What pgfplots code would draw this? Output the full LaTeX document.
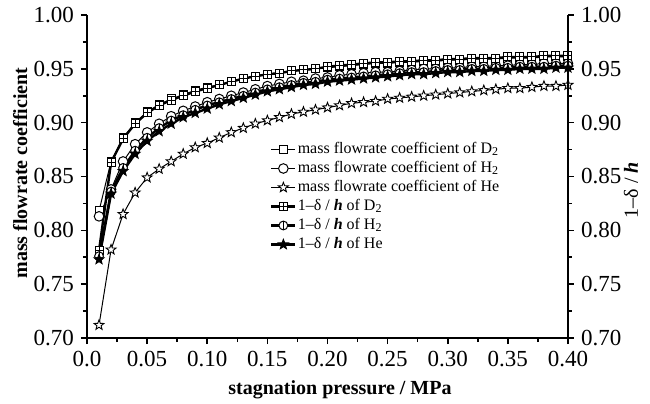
\documentclass[border=0pt]{standalone}
\usepackage{fontspec}
\setmainfont{Liberation Serif}
\usepackage{pgfplots}
\usepackage{pgfplotstable}
\pgfplotsset{compat=1.18}

% five-point star
\pgfdeclareplotmark{star5}{%
  \pgfpathmoveto{\pgfpointpolar{90}{\pgfplotmarksize}}%
  \pgfpathlineto{\pgfpointpolar{126}{0.42\pgfplotmarksize}}%
  \pgfpathlineto{\pgfpointpolar{162}{\pgfplotmarksize}}%
  \pgfpathlineto{\pgfpointpolar{198}{0.42\pgfplotmarksize}}%
  \pgfpathlineto{\pgfpointpolar{234}{\pgfplotmarksize}}%
  \pgfpathlineto{\pgfpointpolar{270}{0.42\pgfplotmarksize}}%
  \pgfpathlineto{\pgfpointpolar{306}{\pgfplotmarksize}}%
  \pgfpathlineto{\pgfpointpolar{342}{0.42\pgfplotmarksize}}%
  \pgfpathlineto{\pgfpointpolar{18}{\pgfplotmarksize}}%
  \pgfpathlineto{\pgfpointpolar{54}{0.42\pgfplotmarksize}}%
  \pgfpathclose
  \pgfusepathqfillstroke}
% square with a cross
\pgfdeclareplotmark{splus}{%
  \pgfpathrectangle{\pgfqpoint{-\pgfplotmarksize}{-\pgfplotmarksize}}{\pgfqpoint{2\pgfplotmarksize}{2\pgfplotmarksize}}%
  \pgfusepathqfillstroke
  \pgfpathmoveto{\pgfqpoint{-\pgfplotmarksize}{0pt}}\pgfpathlineto{\pgfqpoint{\pgfplotmarksize}{0pt}}%
  \pgfpathmoveto{\pgfqpoint{0pt}{-\pgfplotmarksize}}\pgfpathlineto{\pgfqpoint{0pt}{\pgfplotmarksize}}%
  \pgfusepathqstroke}
% circle with a vertical bar
\pgfdeclareplotmark{obar}{%
  \pgfpathcircle{\pgfpointorigin}{\pgfplotmarksize}%
  \pgfusepathqfillstroke
  \pgfpathmoveto{\pgfqpoint{0pt}{-\pgfplotmarksize}}\pgfpathlineto{\pgfqpoint{0pt}{\pgfplotmarksize}}%
  \pgfusepathqstroke}

\pgfplotstableread{
x    mD2   dD2   mH2   dH2   mHe   dHe
0.01 0.818 0.781 0.813 0.776 0.712 0.773
0.02 0.864 0.863 0.838 0.836 0.782 0.834
0.03 0.886 0.885 0.864 0.858 0.815 0.855
0.04 0.900 0.899 0.880 0.874 0.835 0.871
0.05 0.910 0.909 0.891 0.886 0.849 0.883
0.06 0.917 0.916 0.899 0.895 0.857 0.892
0.07 0.922 0.921 0.906 0.902 0.864 0.899
0.08 0.926 0.925 0.911 0.907 0.871 0.905
0.09 0.930 0.929 0.915 0.912 0.877 0.909
0.10 0.933 0.932 0.919 0.916 0.881 0.913
0.11 0.935 0.935 0.922 0.919 0.886 0.917
0.12 0.938 0.938 0.925 0.922 0.891 0.920
0.13 0.941 0.941 0.928 0.925 0.895 0.923
0.14 0.943 0.943 0.931 0.928 0.899 0.926
0.15 0.945 0.945 0.934 0.931 0.902 0.929
0.16 0.946 0.946 0.936 0.933 0.905 0.931
0.17 0.948 0.948 0.938 0.935 0.908 0.933
0.18 0.949 0.949 0.939 0.937 0.910 0.935
0.19 0.950 0.950 0.941 0.938 0.912 0.936
0.20 0.951 0.952 0.942 0.940 0.914 0.938
0.21 0.952 0.953 0.944 0.941 0.916 0.939
0.22 0.953 0.954 0.945 0.942 0.918 0.940
0.23 0.954 0.955 0.946 0.943 0.919 0.941
0.24 0.955 0.956 0.947 0.944 0.920 0.942
0.25 0.955 0.956 0.947 0.945 0.922 0.943
0.26 0.956 0.957 0.948 0.946 0.923 0.944
0.27 0.956 0.957 0.949 0.947 0.924 0.945
0.28 0.957 0.958 0.950 0.947 0.925 0.945
0.29 0.957 0.958 0.950 0.948 0.926 0.946
0.30 0.958 0.959 0.951 0.949 0.927 0.947
0.31 0.958 0.959 0.951 0.949 0.928 0.947
0.32 0.959 0.960 0.952 0.950 0.929 0.948
0.33 0.959 0.960 0.952 0.950 0.930 0.948
0.34 0.959 0.960 0.953 0.951 0.931 0.949
0.35 0.960 0.961 0.953 0.951 0.932 0.949
0.36 0.960 0.961 0.954 0.952 0.932 0.950
0.37 0.960 0.961 0.954 0.952 0.933 0.950
0.38 0.961 0.962 0.955 0.952 0.934 0.950
0.39 0.961 0.962 0.955 0.953 0.934 0.951
0.40 0.961 0.962 0.955 0.953 0.935 0.951
}\coef

\pgfplotsset{
  common/.style={
    at={(0,0)},anchor=south west,
    width=240.5pt,height=161.5pt,scale only axis,
    xmin=0,xmax=0.4,ymin=0.70,ymax=1.00,
    ytick={0.70,0.75,...,1.001},
    yticklabel style={/pgf/number format/.cd,fixed,fixed zerofill,precision=2},
    minor y tick num=1,
    tick align=outside,
    major tick length=3pt,minor tick length=2pt,
    every tick/.style={line width=0.8pt,black},
    axis line style={line width=1pt},
    tick label style={font=\fontsize{11.5}{13}\selectfont},
    /pgf/number format/assume math mode=true,
  }
}

\begin{document}
\begin{tikzpicture}
\useasboundingbox (-43.5pt,-32.5pt) rectangle (281.5pt,169pt);
\begin{axis}[common,
  axis x line*=bottom,axis y line*=left,
  xtick={0,0.05,...,0.401},minor x tick num=1,
  xticklabels={0.0,0.05,0.10,0.15,0.20,0.25,0.30,0.35,0.40},
  xlabel={\textbf{stagnation pressure / MPa}},
  ylabel={\textbf{mass flowrate coefficient}},
  label style={font=\fontsize{10}{12}\selectfont},
  xlabel style={at={(axis description cs:0.526,-0.161)},anchor=center},
  ylabel style={at={(axis description cs:-0.139,0.511)},anchor=center},
  legend cell align=left,
  legend image code/.code={\draw[mark repeat=2,mark phase=2,#1] plot coordinates {(0pt,0pt)(6pt,0pt)(12pt,0pt)};},
  legend style={draw=none,fill=none,at={(axis cs:0.152,0.884)},anchor=north west,
    font=\fontsize{8}{9}\selectfont,inner sep=0pt,row sep=0.3pt,
    nodes={inner sep=0.6pt,text height=6pt,text depth=2pt}},
  clip=false]
  \addplot[black,line width=0.5pt,mark=square*,mark size=2pt,mark options={fill=white,line width=0.5pt}]
    table[x=x,y=mD2]{\coef};
  \addlegendentry{mass flowrate coefficient of D\textsubscript{2}}
  \addplot[black,line width=0.5pt,mark=*,mark size=2.4pt,mark options={fill=white,line width=0.5pt}]
    table[x=x,y=mH2]{\coef};
  \addlegendentry{mass flowrate coefficient of H\textsubscript{2}}
  \addplot[black,line width=0.5pt,mark=star5,mark size=2.6pt,mark options={fill=white,line width=0.45pt}]
    table[x=x,y=mHe]{\coef};
  \addlegendentry{mass flowrate coefficient of He}
  \addplot[black,line width=1.2pt,mark=splus,mark size=2pt,mark options={fill=white,line width=0.5pt}]
    table[x=x,y=dD2]{\coef};
  \addlegendentry{1--δ / \textbf{\textit{h}} of D\textsubscript{2}}
  \addplot[black,line width=1.2pt,mark=obar,mark size=2.2pt,mark options={fill=white,line width=0.5pt}]
    table[x=x,y=dH2]{\coef};
  \addlegendentry{1--δ / \textbf{\textit{h}} of H\textsubscript{2}}
  \addplot[black,line width=1.2pt,mark=star5,mark size=2.6pt,mark options={fill=black,line width=0.45pt}]
    table[x=x,y=dHe]{\coef};
  \addlegendentry{1--δ / \textbf{\textit{h}} of He}
\end{axis}
\begin{axis}[common,
  axis x line=none,axis y line*=right,
  ylabel={1--δ / \textbf{\textit{h}}},
  ylabel style={font=\fontsize{10}{12}\selectfont,at={(axis description cs:1.131,0.458)},anchor=center,rotate=0}]
  \addplot[draw=none] coordinates {(0,0.70)(0.4,1.00)};
\end{axis}
\end{tikzpicture}
\end{document}
